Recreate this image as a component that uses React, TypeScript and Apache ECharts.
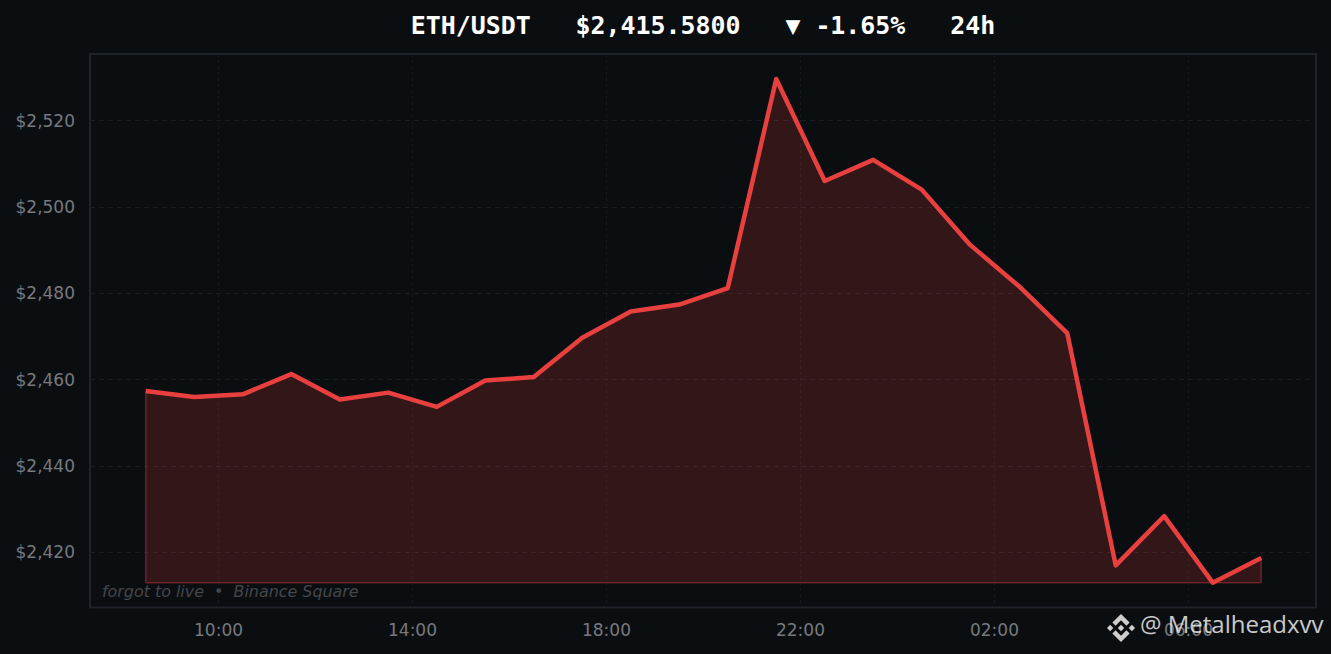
import React, { useEffect, useRef } from "react";
import * as echarts from "echarts";

const hours = [8.5, 9.5, 10.5, 11.5, 12.5, 13.5, 14.5, 15.5, 16.5, 17.5, 18.5, 19.5, 20.5, 21.5, 22.5, 23.5, 24.5, 25.5, 26.5, 27.5, 28.5, 29.5, 30.5, 31.5];
const prices = [2457.4, 2456, 2456.6, 2461.3, 2455.4, 2457, 2453.7, 2459.8, 2460.6, 2469.7, 2475.8, 2477.4, 2481.2, 2529.6, 2506, 2510.9, 2504, 2491.2, 2481.7, 2470.8, 2417, 2428.4, 2413, 2418.7];
const priceFloor = 2413;
const xTicks = [10, 14, 18, 22, 26, 30];
const yTicks = [2420, 2440, 2460, 2480, 2500, 2520];
const titleText = "ETH/USDT   $2,415.5800   ▼ -1.65%   24h";
const captionText = "forgot to live  •  Binance Square";
const watermarkText = "@ Metalheadxvv";

const LOGO =
  "M38.73 53.2l24.59-24.58 24.6 24.6 14.3-14.31L63.32 0 24.42 38.9zM0 63.31l14.3-14.31 14.31 14.31-14.31 14.3zM38.73 73.41l24.59 24.59 24.6-24.6 14.31 14.29-38.9 38.91-38.91-38.88zM98.28 63.31l14.3-14.31 14.31 14.3-14.31 14.32zM77.83 63.3L63.32 48.78 52.59 59.51l-1.24 1.23-2.54 2.54 14.51 14.5 14.51-14.47z";
echarts.graphic.registerShape("binanceLogo", echarts.graphic.extendPath(LOGO, {}) as any);

const hourLabel = (v: number) => `${String(Math.round(v) % 24).padStart(2, "0")}:00`;
const priceLabel = (v: number) => "$" + v.toLocaleString("en-US");

export default function App() {
  const ref = useRef<HTMLDivElement>(null);
  useEffect(() => {
    document.body.style.margin = "0";
    document.body.style.background = "#0b0e11";
    const chart = echarts.init(ref.current!, undefined, { renderer: "svg" });
    chart.setOption({
      animation: false,
      backgroundColor: "#0b0e11",
      title: {
        text: titleText,
        left: 698,
        top: 6,
        textAlign: "center",
        textStyle: { fontFamily: "DejaVu Sans Mono", fontSize: 24.9, fontWeight: "bold", color: "#ffffff", lineHeight: 29 },
      },
      grid: { left: 90, right: 15, top: 54, bottom: 46.5, show: true, borderColor: "#1e2329", borderWidth: 2, backgroundColor: "#0b0e11" },
      xAxis: {
        type: "value",
        min: 7.35,
        max: 32.63,
        axisLine: { show: false },
        axisTick: { show: false, customValues: xTicks },
        axisLabel: { customValues: xTicks, formatter: hourLabel, color: "#77797e", fontFamily: "DejaVu Sans", fontSize: 17, margin: 14 },
        splitLine: { show: true, lineStyle: { color: "#15191d", type: [3, 3], width: 1 } },
      },
      yAxis: {
        type: "value",
        min: 2407.25,
        max: 2535.4,
        axisLine: { show: false },
        axisTick: { show: false, customValues: yTicks },
        axisLabel: { customValues: yTicks, formatter: priceLabel, color: "#77797e", fontFamily: "DejaVu Sans", fontSize: 17, margin: 15 },
        splitLine: { show: true, lineStyle: { color: "#1a1e23", type: [5, 4], width: 1 } },
      },
      series: [
        {
          type: "line",
          silent: true,
          symbol: "none",
          data: [
            [hours[0], prices[0]],
            [hours[0], priceFloor],
            [hours[hours.length - 1], priceFloor],
            [hours[hours.length - 1], prices[prices.length - 1]],
          ],
          lineStyle: { color: "#5a2125", width: 1.5 },
          z: 4,
        },
        {
          type: "line",
          symbol: "none",
          data: hours.map((h, i) => [h, prices[i]]),
          lineStyle: { color: "#e8403f", width: 4.5, join: "round" },
          areaStyle: { color: "#e8403f", opacity: 0.18, origin: priceFloor },
          z: 5,
        },
      ],
      graphic: [
        { type: "text", x: 102, y: 583, silent: true, z: 10, style: { text: captionText, fontFamily: "DejaVu Sans", fontStyle: "italic", fontSize: 15.9, fill: "#43464b" } },
        { type: "binanceLogo", x: 1107, y: 614, scaleX: 28 / 126.89, scaleY: 28 / 126.61, silent: true, z: 10, style: { fill: "rgba(255,255,255,0.8)" } },
        { type: "text", x: 1140, y: 611, silent: true, z: 10, style: { text: watermarkText, fontFamily: "Open Sans", fontSize: 24, fill: "rgba(255,255,255,0.78)" } },
      ],
    });
    return () => chart.dispose();
  }, []);
  return <div ref={ref} style={{ position: "fixed", left: 0, top: 0, width: 1331, height: 654 }} />;
}
